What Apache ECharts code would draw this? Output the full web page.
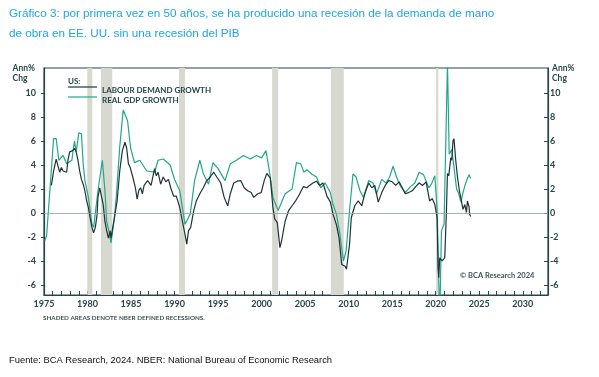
<!DOCTYPE html>
<html>
<head>
<meta charset="utf-8">
<script src="https://cdn.jsdelivr.net/npm/echarts@6/dist/echarts.min.js"></script>
<style>
  html, body { margin: 0; padding: 0; background: #fff; }
  #chart { width: 599px; height: 377px; }
</style>
</head>
<body>
<div id="chart"></div>
<script>
// real GDP growth, yoy %
const gdpYears = [1975.1, 1975.3, 1976.1, 1976.4, 1976.7, 1977.2, 1977.6, 1978.2, 1978.5, 1978.7, 1979.0, 1979.3, 1979.5, 1979.7,
  1980.1, 1980.5, 1980.7, 1981.2, 1981.7, 1982.0, 1982.2, 1982.45, 1982.7, 1983.0, 1983.3, 1983.7, 1984.1, 1984.6, 1984.95,
  1985.4, 1986.0, 1986.8, 1987.7, 1988.1, 1988.7, 1989.5, 1989.7, 1990.0, 1990.6, 1991.2, 1991.8, 1992.3, 1992.9, 1993.3,
  1993.9, 1994.4, 1995.0, 1995.8, 1996.4, 1997.1, 1997.9, 1998.7, 1999.4, 2000.0, 2000.5, 2001.0, 2001.3, 2001.9, 2002.7,
  2003.5, 2004.0, 2004.5, 2004.85, 2005.2, 2005.75, 2006.3, 2006.8, 2007.3, 2007.9, 2008.2, 2008.6, 2009.0, 2009.4, 2009.7,
  2010.1, 2010.5, 2010.85, 2011.3, 2011.7, 2012.3, 2012.8, 2013.2, 2013.8, 2014.3, 2014.7, 2015.1, 2015.5, 2015.9, 2016.5,
  2017.1, 2017.6, 2018.1, 2018.6, 2019.2, 2019.5, 2019.9, 2020.16, 2020.46, 2020.66, 2020.96, 2021.35, 2021.55, 2021.85,
  2022.1, 2022.4, 2022.65, 2022.9, 2023.1, 2023.4, 2023.65, 2023.85, 2024.0];
const gdpGrowth = [-2.3, -1.9, 6.2, 6.2, 4.4, 4.8, 4.1, 4.4, 6.0, 5.1, 6.7, 6.6, 4.1, 2.7,
  1.3, -0.9, -1.2, 1.85, 4.4, 1.85, -0.7, -1.5, -2.5, -0.9, 1.3, 5.5, 8.6, 7.7, 5.4,
  4.2, 4.4, 3.5, 3.4, 4.4, 4.5, 4.0, 3.5, 2.8, 1.85, -0.95, -0.1, 2.7, 4.4, 3.3,
  2.4, 4.2, 3.7, 2.7, 4.1, 4.4, 4.8, 4.5, 4.8, 4.6, 5.2, 3.0, 1.3, 0.2, 1.6,
  2.0, 4.2, 4.1, 3.4, 3.6, 3.25, 3.0, 2.1, 2.5, 1.7, 0.7, -0.1, -1.8, -4.0, -3.2,
  0.2, 3.25, 3.0, 1.85, 1.3, 2.7, 2.5, 1.6, 2.8, 2.5, 3.0, 3.9, 3.0, 2.3, 1.7,
  2.2, 2.5, 3.4, 3.2, 2.1, 2.4, 3.1, 0.2, -9.0, -1.5, -0.9, 12.5, 4.9, 5.3,
  3.8, 2.0, 1.6, 0.9, 1.6, 2.4, 2.9, 3.2, 2.9];

// labour demand growth, yoy %
const labourYears = [1975.85, 1976.1, 1976.4, 1976.6, 1976.8, 1977.0, 1977.2, 1977.4, 1977.6, 1977.75, 1977.95, 1978.15, 1978.3,
  1978.5, 1978.7, 1978.9, 1979.1, 1979.3, 1979.5, 1979.7, 1979.9, 1980.1, 1980.3, 1980.5, 1980.7, 1980.9, 1981.1, 1981.2,
  1981.4, 1981.6, 1981.8, 1982.0, 1982.2, 1982.4, 1982.6, 1982.7, 1982.9, 1983.1, 1983.4, 1983.7, 1984.0, 1984.3, 1984.5,
  1984.7, 1984.9, 1985.2, 1985.5, 1985.7, 1985.9, 1986.1, 1986.3, 1986.5, 1986.9, 1987.3, 1987.7, 1987.9, 1988.1, 1988.4,
  1988.7, 1989.0, 1989.3, 1989.6, 1989.9, 1990.2, 1990.6, 1990.9, 1991.2, 1991.4, 1991.6, 1991.85, 1992.2, 1992.5, 1992.9,
  1993.3, 1993.7, 1994.1, 1994.5, 1994.85, 1995.3, 1995.7, 1996.1, 1996.4, 1996.8, 1997.2, 1997.6, 1998.0, 1998.4, 1998.8,
  1999.1, 1999.55, 1999.95, 2000.3, 2000.6, 2001.0, 2001.3, 2001.5, 2001.8, 2002.1, 2002.3, 2002.7, 2003.1, 2003.5, 2003.9,
  2004.3, 2004.8, 2005.2, 2005.5, 2005.9, 2006.3, 2006.65, 2007.05, 2007.5, 2007.9, 2008.2, 2008.6, 2008.9, 2009.2, 2009.6,
  2009.75, 2010.1, 2010.3, 2010.7, 2011.1, 2011.5, 2011.85, 2012.3, 2012.65, 2013.0, 2013.4, 2013.8, 2014.2, 2014.6, 2015.0,
  2015.4, 2015.8, 2016.15, 2016.5, 2016.9, 2017.3, 2017.7, 2018.1, 2018.5, 2018.9, 2019.3, 2019.6, 2019.9, 2020.16, 2020.27,
  2020.35, 2020.46, 2020.73, 2021.04, 2021.23, 2021.35, 2021.5, 2021.73, 2021.85, 2021.98, 2022.1, 2022.3, 2022.5, 2022.72,
  2022.95, 2023.14, 2023.34, 2023.53, 2023.64, 2023.83, 2023.9, 2024.02];
const labourGrowth = [2.3, 3.5, 4.5, 4.4, 3.4, 3.8, 3.5, 3.6, 3.4, 4.4, 5.1, 5.1, 5.2,
  5.4, 5.1, 4.4, 3.5, 2.8, 2.4, 1.85, 1.0, 0.45, -0.4, -1.2, -1.65, -1.2, -0.1, 1.3,
  2.1, 2.0, 0.7, -0.7, -1.5, -2.1, -1.5, -2.1, -1.2, -0.4, 1.0, 3.5, 5.2, 5.9, 5.4,
  4.1, 3.8, 3.0, 2.1, 1.15, 1.9, 2.1, 1.6, 2.3, 2.7, 2.3, 3.7, 3.1, 3.4, 2.4,
  3.0, 2.6, 2.8, 2.0, 1.4, 1.4, 0.45, -0.7, -1.8, -2.6, -1.5, -1.2, 0.2, 1.0, 1.6,
  2.1, 2.7, 3.0, 3.4, 3.0, 2.5, 1.3, 0.6, 1.6, 2.5, 2.65, 2.7, 2.1, 1.85, 1.7,
  1.3, 1.6, 1.7, 2.7, 3.3, 2.9, 0.45, -0.5, -0.8, -2.9, -2.3, -0.7, 0.2, 0.6, 1.0,
  1.5, 2.2, 2.1, 2.3, 2.5, 2.65, 2.3, 2.5, 1.4, 0.9, -0.1, -1.0, -2.1, -4.3, -4.45,
  -4.7, -2.6, -0.4, 0.6, 1.0, 0.6, 1.6, 2.5, 2.1, 2.3, 0.9, 1.7, 2.3, 2.7, 2.6,
  2.3, 2.6, 2.1, 1.6, 1.7, 1.85, 2.2, 2.5, 2.3, 2.6, 1.0, 1.2, 0.7, -0.4, -4.6,
  -5.4, -3.75, -4.0, -3.75, 0.2, 3.3, 3.1, 4.6, 4.4, 6.0, 6.2, 4.4, 3.0, 1.85,
  1.0, 0.3, 0.7, 0.05, 1.0, 0.5, -0.1, -0.3];

// NBER recessions (start, end)
const recessions = [[1979.97, 1980.55], [1981.54, 1982.84], [1990.5, 1991.19], [2001.21, 2001.9], [2007.95, 2009.44], [2020.05, 2020.3]];

const yTicks = [-6, -4, -2, 0, 2, 4, 6, 8, 10];
const xLabels = [1975, 1980, 1985, 1990, 1995, 2000, 2005, 2010, 2015, 2020, 2025, 2030];
const xTicks = [];
for (let y = 1975; y <= 2032; y++) xTicks.push(y);

const ink = '#26464a';
const lab = "Lato, 'Open Sans', sans-serif";

const zip = (a, b) => a.map((v, i) => [v, b[i]]);

const chart = echarts.init(document.getElementById('chart'));

const yAxisBase = {
    type: 'value',
    min: -6.85,
    max: 12.1,
    splitLine: { show: false },
    axisLine: { show: true, onZero: false, lineStyle: { color: ink, width: 1.2 } }
};

const option = {
    animation: false,
    backgroundColor: '#ffffff',
    grid: { left: 44, right: 51, top: 68, bottom: 82, show: true, borderColor: ink, borderWidth: 1.2, backgroundColor: 'transparent' },
    xAxis: {
        type: 'value',
        min: 1975,
        max: 2032.9,
        splitLine: { show: false },
        axisLine: { onZero: false, lineStyle: { color: ink, width: 1.2 } },
        axisTick: { inside: true, length: 4, customValues: xTicks, lineStyle: { color: ink, width: 1 } },
        axisLabel: { customValues: xLabels, formatter: v => String(v), color: ink, fontFamily: lab, fontWeight: 'bold', fontSize: 9, margin: 5 }
    },
    yAxis: [
        Object.assign({}, yAxisBase, {
            position: 'left',
            axisTick: { show: true, inside: false, length: 3, customValues: yTicks, lineStyle: { color: ink } },
            axisLabel: { customValues: yTicks, color: ink, fontFamily: lab, fontWeight: 'bold', fontSize: 9, margin: 8 }
        }),
        Object.assign({}, yAxisBase, {
            position: 'right',
            axisTick: { show: true, inside: true, length: 4, customValues: yTicks, lineStyle: { color: ink } },
            axisLabel: { customValues: yTicks, color: ink, fontFamily: lab, fontWeight: 'bold', fontSize: 9, margin: 2 }
        })
    ],
    series: [
        {
            // recession shading only
            type: 'line',
            z: 1,
            data: [[1975, null]],
            silent: true,
            markArea: {
                silent: true,
                itemStyle: { color: '#d7d8cf' },
                data: recessions.map(r => [{ xAxis: r[0] }, { xAxis: r[1] }])
            }
        },
        {
            name: 'REAL GDP GROWTH',
            type: 'line',
            z: 3,
            data: zip(gdpYears, gdpGrowth),
            showSymbol: false,
            clip: true,
            lineStyle: { color: '#21a887', width: 1.2 },
            markLine: {
                silent: true,
                symbol: 'none',
                label: { show: false },
                lineStyle: { color: '#8ea3a3', width: 0.8, type: 'solid' },
                data: [{ yAxis: 0 }]
            }
        },
        {
            name: 'LABOUR DEMAND GROWTH',
            type: 'line',
            z: 4,
            data: zip(labourYears, labourGrowth),
            showSymbol: false,
            clip: true,
            lineStyle: { color: '#1d3437', width: 1.2 }
        }
    ],
    graphic: [
        { type: 'text', left: 9, top: 8, style: { text: 'Gráfico 3: por primera vez en 50 años, se ha producido una recesión de la demanda de mano', fill: '#1ca6e6', font: "11.7px 'Liberation Sans', Arial, sans-serif" } },
        { type: 'text', left: 9, top: 28, style: { text: 'de obra en EE. UU. sin una recesión del PIB', fill: '#1ca6e6', font: "11.7px 'Liberation Sans', Arial, sans-serif" } },
        { type: 'text', right: 564, top: 63, style: { text: 'Ann%\nChg', fill: ink, align: 'right', lineHeight: 10, font: "bold 8.5px " + lab } },
        { type: 'text', left: 552, top: 63, style: { text: 'Ann%\nChg', fill: ink, lineHeight: 10, font: "bold 8.5px " + lab } },
        { type: 'text', z: 100, left: 68, top: 77, style: { text: 'US:', fill: ink, font: "bold 8px " + lab } },
        { type: 'line', z: 100, shape: { x1: 68, y1: 87, x2: 97, y2: 87 }, style: { stroke: '#1d3437', lineWidth: 1.2 } },
        { type: 'line', z: 100, shape: { x1: 68, y1: 97, x2: 97, y2: 97 }, style: { stroke: '#21a887', lineWidth: 1.2 } },
        { type: 'text', z: 100, left: 102, top: 86, style: { text: 'LABOUR DEMAND GROWTH', fill: ink, font: "bold 8px " + lab } },
        { type: 'text', z: 100, left: 102, top: 96, style: { text: 'REAL GDP GROWTH', fill: ink, font: "bold 8px " + lab } },
        { type: 'text', left: 460, top: 272, style: { text: '© BCA Research 2024', fill: '#3b5457', font: "bold 7.5px " + lab } },
        { type: 'text', left: 43, top: 315, style: { text: 'SHADED AREAS DENOTE NBER DEFINED RECESSIONS.', fill: '#3b5457', font: "bold 6.3px " + lab } },
        { type: 'text', left: 9, top: 356, style: { text: 'Fuente: BCA Research, 2024. NBER: National Bureau of Economic Research', fill: '#111', font: "9.4px 'Liberation Sans', Arial, sans-serif" } }
    ]
};

chart.setOption(option);
</script>
</body>
</html>
